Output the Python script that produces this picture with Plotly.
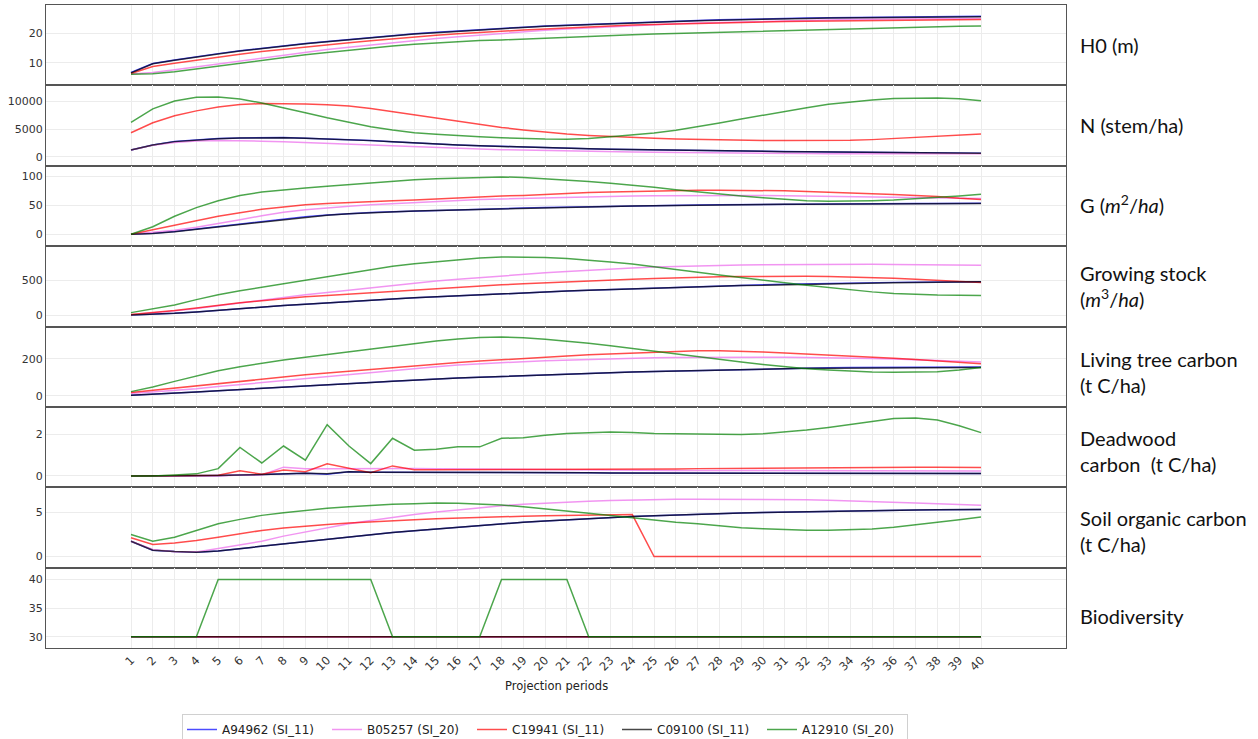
import plotly.graph_objects as go
from plotly.subplots import make_subplots

periods = list(range(1, 41))
series_names = ["A94962 (SI_11)", "B05257 (SI_20)", "C19941 (SI_11)", "C09100 (SI_11)", "A12910 (SI_20)"]
series_colors = ["rgba(0,0,255,0.7)", "rgba(238,130,238,0.85)", "rgba(255,0,0,0.7)", "rgba(0,0,0,0.72)", "rgba(0,128,0,0.7)"]

panel_labels = ["H0 (m)", "N (stem/ha)", "G (<i>m</i><sup>2</sup>/<i>ha</i>)",
                "Growing stock<br>(<i>m</i><sup>3</sup>/<i>ha</i>)", "Living tree carbon<br>(t C/ha)",
                "Deadwood<br>carbon  (t C/ha)", "Soil organic carbon<br>(t C/ha)", "Biodiversity"]

# ---------- H0 (m) ----------
h0_blue = [6.6, 9.7, 10.9, 12.1, 13.1, 14.1, 15.0, 15.8, 16.6, 17.3, 18.0, 18.6, 19.3, 19.9, 20.4, 20.9, 21.4, 21.8, 22.2, 22.6, 22.9, 23.2, 23.5, 23.8, 24.1, 24.3, 24.5, 24.7, 24.9, 25.1, 25.2, 25.3, 25.4, 25.5, 25.6, 25.7, 25.8, 25.8, 25.9, 25.9]
h0_pink = [6.1, 6.6, 7.6, 8.6, 9.6, 10.6, 11.6, 12.6, 13.6, 14.5, 15.3, 16.1, 16.9, 17.6, 18.3, 18.9, 19.5, 20.1, 20.6, 21.1, 21.6, 22.0, 22.4, 22.8, 23.1, 23.4, 23.6, 23.8, 24.0, 24.2, 24.4, 24.5, 24.6, 24.8, 24.9, 25.0, 25.0, 25.1, 25.2, 25.2]
h0_red = [6.3, 8.7, 9.8, 10.9, 11.9, 12.9, 13.8, 14.6, 15.4, 16.1, 16.8, 17.5, 18.2, 18.8, 19.4, 19.9, 20.4, 20.8, 21.2, 21.6, 22.0, 22.3, 22.6, 22.9, 23.1, 23.3, 23.5, 23.7, 23.9, 24.0, 24.1, 24.2, 24.3, 24.4, 24.5, 24.6, 24.6, 24.7, 24.7, 24.8]
h0_black = [6.5, 9.6, 10.8, 12.0, 13.0, 14.0, 14.9, 15.7, 16.5, 17.2, 17.9, 18.5, 19.2, 19.8, 20.3, 20.8, 21.3, 21.7, 22.1, 22.5, 22.8, 23.1, 23.4, 23.7, 24.0, 24.2, 24.4, 24.6, 24.8, 25.0, 25.1, 25.2, 25.3, 25.4, 25.5, 25.6, 25.7, 25.7, 25.8, 25.8]
h0_green = [6.0, 6.2, 6.9, 7.9, 8.9, 9.9, 10.8, 11.8, 12.7, 13.5, 14.3, 15.0, 15.7, 16.3, 16.8, 17.3, 17.6, 17.8, 18.1, 18.5, 18.9, 19.1, 19.3, 19.6, 19.8, 20.0, 20.3, 20.5, 20.7, 20.9, 21.1, 21.3, 21.5, 21.7, 21.9, 22.1, 22.2, 22.4, 22.5, 22.6]

# ---------- N (stem/ha) ----------
n_blue = [1250, 2150, 2750, 3060, 3290, 3410, 3470, 3460, 3360, 3230, 3110, 2930, 2710, 2490, 2310, 2150, 2000, 1870, 1750, 1640, 1540, 1460, 1380, 1310, 1250, 1190, 1130, 1080, 1030, 990, 950, 910, 870, 840, 810, 780, 750, 720, 690, 660]
n_pink = [1250, 2100, 2600, 2850, 2920, 2900, 2820, 2700, 2550, 2400, 2250, 2080, 1920, 1760, 1620, 1500, 1400, 1300, 1210, 1130, 1060, 1000, 940, 880, 830, 780, 740, 700, 670, 640, 610, 590, 570, 560, 550, 540, 540, 540, 540, 540]
n_red = [4340, 6130, 7380, 8270, 8980, 9400, 9580, 9600, 9520, 9380, 9130, 8720, 8150, 7600, 7000, 6400, 5850, 5300, 4850, 4450, 4100, 3850, 3650, 3480, 3330, 3220, 3130, 3060, 3000, 2960, 2930, 2920, 2930, 2980, 3100, 3280, 3480, 3700, 3900, 4110]
n_black = [1250, 2140, 2740, 3040, 3270, 3390, 3450, 3450, 3350, 3220, 3100, 2920, 2700, 2480, 2300, 2140, 1990, 1860, 1740, 1630, 1530, 1450, 1370, 1300, 1240, 1180, 1120, 1070, 1020, 980, 940, 900, 860, 830, 800, 770, 740, 710, 680, 650]
n_green = [6200, 8630, 10060, 10710, 10770, 10400, 9700, 8870, 7920, 7020, 6190, 5420, 4820, 4350, 4050, 3800, 3620, 3450, 3300, 3200, 3170, 3300, 3600, 3900, 4300, 4800, 5400, 6100, 6800, 7500, 8200, 8850, 9450, 9900, 10250, 10500, 10600, 10600, 10450, 10100]

# ---------- G (m2/ha) ----------
g_blue = [0, 1.6, 4.6, 8.8, 12.8, 17.2, 21.7, 26.2, 30.2, 33.2, 35.7, 37.5, 39.0, 40.2, 41.2, 42.2, 43.2, 44.2, 45.2, 46.0, 46.8, 47.6, 48.2, 48.8, 49.4, 49.9, 50.4, 50.8, 51.2, 51.6, 51.9, 52.2, 52.5, 52.7, 52.9, 53.1, 53.2, 53.3, 53.4, 53.5]
g_pink = [0, 3, 7, 12, 18, 25, 32, 38, 42.5, 46, 48.5, 51, 53, 54.5, 56, 58, 60, 61, 62, 63, 64, 65, 65.5, 66, 66.5, 66.8, 67, 67, 67, 66.8, 66.5, 66, 65.5, 65, 64.5, 64, 63.5, 63, 62.3, 61.6]
g_red = [0, 8, 16, 24, 31, 37, 43, 47, 51, 53, 55, 56, 58, 59, 61, 63, 64, 66, 67, 69, 70, 72, 73, 74, 75, 75.5, 76, 76, 76, 75.5, 75, 74, 73, 71.5, 70, 68.5, 67, 65, 62, 60]
g_black = [0, 1.5, 4.5, 8.6, 12.6, 17, 21.5, 26, 30, 33, 35.5, 37.3, 38.8, 40, 41, 42, 43, 44, 45, 45.8, 46.6, 47.4, 48, 48.6, 49.2, 49.7, 50.2, 50.6, 51, 51.4, 51.7, 52, 52.3, 52.5, 52.7, 52.9, 53, 53.1, 53.2, 53.3]
g_green = [0, 13, 31, 46, 58, 67, 73, 77, 80, 83, 86, 89, 91, 94, 96, 97, 98, 99, 98, 96, 94, 91, 88, 85, 81, 77, 73, 69, 66, 63, 60, 58, 57, 57, 58, 59, 61, 63, 66, 69]

# ---------- Growing stock (m3/ha) ----------
gs_blue = [5, 15, 30, 50, 75, 97, 118, 140, 160, 181, 200, 218, 234, 250, 265, 280, 295, 308, 322, 335, 347, 359, 370, 381, 391, 401, 411, 420, 429, 437, 445, 452, 458, 463, 467, 470, 472, 474, 476, 478]
gs_pink = [10, 35, 65, 100, 140, 180, 220, 260, 295, 325, 360, 395, 430, 460, 490, 515, 540, 565, 585, 605, 625, 645, 660, 675, 688, 698, 705, 712, 718, 722, 725, 727, 728, 728, 727, 725, 722, 719, 716, 712]
gs_red = [14, 40, 70, 105, 145, 180, 210, 240, 265, 285, 305, 325, 345, 360, 380, 400, 420, 435, 450, 465, 480, 495, 505, 515, 525, 535, 543, 550, 553, 556, 557, 556, 553, 548, 540, 528, 515, 500, 485, 467]
gs_black = [5, 15, 30, 50, 75, 97, 118, 140, 160, 181, 200, 218, 234, 250, 265, 280, 295, 308, 322, 335, 347, 359, 370, 380, 390, 399, 408, 416, 424, 431, 438, 444, 450, 455, 460, 465, 469, 473, 477, 480]
gs_green = [40, 90, 150, 225, 295, 350, 400, 450, 505, 560, 605, 650, 700, 735, 765, 795, 815, 830, 830, 825, 810, 790, 760, 730, 695, 655, 615, 575, 535, 500, 465, 430, 395, 365, 335, 312, 298, 290, 287, 285]

# ---------- Living tree carbon (t C/ha) ----------
ltc_blue = [3, 8, 14, 21, 28, 34, 40, 46, 51, 56, 64, 72, 79, 86, 91, 96, 100, 104.5, 109, 113, 117, 121, 125, 128, 131, 134, 137, 140, 142, 145, 147, 149, 151, 152, 153, 154, 154, 155, 155, 155]
ltc_pink = [13, 20, 28, 38, 50, 61, 72, 83, 94, 104, 115, 126, 137, 147, 157, 166, 173, 179, 184, 189, 193, 197, 200, 203, 205, 207, 208, 209, 209, 209, 208, 207, 206, 204, 201, 198, 195, 191, 187, 182]
ltc_red = [18, 30, 42, 55, 68, 80, 91, 102, 113, 123, 133, 143, 152, 161, 170, 179, 187, 195, 202, 209, 215, 221, 226, 231, 236, 240, 243, 242, 240, 236, 231, 226, 221, 215, 209, 203, 196, 189, 181, 173]
ltc_black = [3, 8, 14, 21, 28, 34, 40, 46, 51, 56, 64, 72, 79, 86, 91, 96, 100, 104.5, 109, 113, 117, 121, 125, 128, 131, 134, 137, 140, 142, 144, 146, 148, 149, 150, 151, 152, 152, 153, 153, 153]
ltc_green = [23, 48, 78, 108, 135, 157, 176, 193, 208, 222, 238, 253, 268, 282, 295, 306, 314, 316, 313, 305, 295, 283, 270, 255, 240, 225, 208, 195, 182, 169, 157, 146, 139, 133, 129, 127, 127, 130, 139, 152]

# ---------- Deadwood carbon (t C/ha) ----------
dw_blue = [0, 0, 0, 0.01, 0.02, 0.04, 0.06, 0.1, 0.13, 0.08, 0.2, 0.18, 0.18, 0.17, 0.16, 0.16, 0.16, 0.16, 0.15, 0.15, 0.15, 0.15, 0.14, 0.14, 0.14, 0.14, 0.14, 0.13, 0.13, 0.13, 0.13, 0.13, 0.13, 0.13, 0.12, 0.12, 0.12, 0.12, 0.12, 0.12]
dw_pink = [0, 0, 0, 0, 0, 0.05, 0.05, 0.42, 0.35, 0.35, 0.36, 0.36, 0.37, 0.36, 0.34, 0.33, 0.32, 0.31, 0.3, 0.3, 0.29, 0.28, 0.28, 0.27, 0.27, 0.26, 0.26, 0.26, 0.25, 0.25, 0.25, 0.25, 0.25, 0.25, 0.24, 0.24, 0.24, 0.24, 0.24, 0.24]
dw_red = [0, 0, 0, 0, 0.03, 0.25, 0.08, 0.28, 0.2, 0.58, 0.38, 0.15, 0.48, 0.3, 0.3, 0.3, 0.3, 0.3, 0.3, 0.3, 0.3, 0.3, 0.3, 0.3, 0.32, 0.33, 0.35, 0.36, 0.37, 0.38, 0.39, 0.4, 0.4, 0.41, 0.41, 0.42, 0.42, 0.41, 0.4, 0.4]
dw_black = [0, 0, 0, 0.01, 0.02, 0.04, 0.06, 0.1, 0.13, 0.1, 0.2, 0.18, 0.18, 0.17, 0.16, 0.16, 0.16, 0.16, 0.15, 0.15, 0.15, 0.15, 0.14, 0.14, 0.14, 0.14, 0.14, 0.13, 0.13, 0.13, 0.13, 0.13, 0.13, 0.13, 0.12, 0.12, 0.12, 0.12, 0.12, 0.12]
dw_green = [0, 0, 0.05, 0.1, 0.35, 1.36, 0.62, 1.43, 0.75, 2.45, 1.43, 0.59, 1.8, 1.23, 1.28, 1.39, 1.39, 1.8, 1.82, 1.95, 2.03, 2.08, 2.1, 2.08, 2.03, 2.02, 2.0, 1.98, 1.98, 2.02, 2.1, 2.2, 2.32, 2.45, 2.6, 2.75, 2.77, 2.67, 2.4, 2.07]

# ---------- Soil organic carbon (t C/ha) ----------
soc_blue = [1.73, 0.72, 0.57, 0.49, 0.64, 0.9, 1.17, 1.47, 1.73, 2.0, 2.26, 2.48, 2.71, 2.9, 3.1, 3.3, 3.5, 3.68, 3.85, 4.0, 4.14, 4.27, 4.39, 4.5, 4.6, 4.69, 4.77, 4.84, 4.9, 4.96, 5.01, 5.06, 5.1, 5.14, 5.17, 5.2, 5.23, 5.25, 5.27, 5.3]
soc_pink = [1.73, 0.79, 0.53, 0.53, 0.9, 1.28, 1.73, 2.3, 2.79, 3.24, 3.69, 4.06, 4.44, 4.74, 5.0, 5.25, 5.48, 5.7, 5.88, 6.02, 6.14, 6.23, 6.3, 6.36, 6.4, 6.43, 6.45, 6.45, 6.45, 6.44, 6.42, 6.38, 6.33, 6.27, 6.2, 6.12, 6.03, 5.93, 5.85, 5.76]
soc_red = [2.11, 1.35, 1.54, 1.81, 2.18, 2.56, 2.94, 3.2, 3.42, 3.61, 3.76, 3.91, 4.03, 4.14, 4.24, 4.33, 4.41, 4.48, 4.54, 4.6, 4.65, 4.68, 4.7, 4.72, 0, 0, 0, 0, 0, 0, 0, 0, 0, 0, 0, 0, 0, 0, 0, 0]
soc_black = [1.73, 0.72, 0.57, 0.49, 0.64, 0.9, 1.17, 1.47, 1.73, 2.0, 2.26, 2.48, 2.71, 2.9, 3.1, 3.3, 3.5, 3.68, 3.85, 4.0, 4.14, 4.27, 4.39, 4.5, 4.6, 4.69, 4.77, 4.84, 4.9, 4.96, 5.01, 5.06, 5.1, 5.14, 5.17, 5.2, 5.23, 5.25, 5.27, 5.3]
soc_green = [2.48, 1.73, 2.18, 2.94, 3.69, 4.18, 4.63, 4.93, 5.2, 5.42, 5.61, 5.76, 5.87, 5.95, 6.02, 6.0, 5.92, 5.8, 5.6, 5.38, 5.12, 4.88, 4.63, 4.35, 4.06, 3.85, 3.69, 3.45, 3.25, 3.12, 3.01, 2.95, 2.95, 3.0, 3.1, 3.3, 3.55, 3.85, 4.15, 4.44]

# ---------- Biodiversity ----------
bio_blue = [30] * 40
bio_pink = [30] * 40
bio_red = [30] * 40
bio_black = [30] * 40
bio_green = [30, 30, 30, 30, 40, 40, 40, 40, 40, 40, 40, 40, 30, 30, 30, 30, 30, 40, 40, 40, 40, 30, 30, 30, 30, 30, 30, 30, 30, 30, 30, 30, 30, 30, 30, 30, 30, 30, 30, 30]

panels = [
    [h0_blue, h0_pink, h0_red, h0_black, h0_green],
    [n_blue, n_pink, n_red, n_black, n_green],
    [g_blue, g_pink, g_red, g_black, g_green],
    [gs_blue, gs_pink, gs_red, gs_black, gs_green],
    [ltc_blue, ltc_pink, ltc_red, ltc_black, ltc_green],
    [dw_blue, dw_pink, dw_red, dw_black, dw_green],
    [soc_blue, soc_pink, soc_red, soc_black, soc_green],
    [bio_blue, bio_pink, bio_red, bio_black, bio_green],
]
y_ticks = [[10, 20], [0, 5000, 10000], [0, 50, 100], [0, 500], [0, 200], [0, 2], [0, 5], [30, 35, 40]]
y_ranges = [[2.2, 29.8], [-1600, 12860], [-20.5, 118.3], [-157, 985], [-59, 373], [-0.54, 3.3], [-1.24, 7.79], [28.04, 42.08]]
label_y_px = [45, 125, 204, 286, 372, 451, 531, 616]

fig = make_subplots(rows=8, cols=1, shared_xaxes=True, vertical_spacing=0)

for r, data in enumerate(panels, start=1):
    for i, vals in enumerate(data):
        fig.add_trace(go.Scatter(x=periods, y=vals, mode="lines", name=series_names[i],
                                 line=dict(color=series_colors[i], width=1.5),
                                 showlegend=(r == 1), legendgroup=series_names[i]),
                      row=r, col=1)
    fig.update_yaxes(row=r, col=1, tickvals=y_ticks[r - 1],
                     ticktext=[str(t) for t in y_ticks[r - 1]], range=y_ranges[r - 1],
                     showgrid=True, gridcolor="#ececec", zeroline=False,
                     showline=True, linecolor="#555", linewidth=1, mirror=True,
                     ticks="", automargin=False,
                     tickfont=dict(family="DejaVu Sans", size=11, color="#333"))
    fig.update_xaxes(row=r, col=1, range=[-2.9, 43.9], tickvals=periods,
                     ticktext=[str(p) for p in periods],
                     showgrid=True, gridcolor="#ececec", zeroline=False,
                     showline=True, linecolor="#555", linewidth=1, mirror=True,
                     showticklabels=(r == 8), tickangle=-45, automargin=False,
                     tickfont=dict(family="DejaVu Sans", size=11.5, color="#333"))

plot_top, plot_bottom = 5, 648
def py(px):
    return (plot_bottom - px) / (plot_bottom - plot_top)

for lab, ypx in zip(panel_labels, label_y_px):
    fig.add_annotation(text=lab, xref="paper", yref="paper", x=1.012, y=py(ypx),
                       xanchor="left", yanchor="middle", align="left", showarrow=False,
                       font=dict(family="Lato", size=20, color="#111"))

fig.add_annotation(text="Projection periods", xref="paper", yref="paper", x=0.5, y=py(686),
                   xanchor="center", yanchor="middle", showarrow=False,
                   font=dict(family="DejaVu Sans", size=11.5, color="#222"))

fig.update_layout(
    width=1258, height=739,
    margin=dict(l=46, r=192, t=5, b=91, autoexpand=False),
    plot_bgcolor="white", paper_bgcolor="white",
    legend=dict(orientation="h", xref="container", yref="container",
                x=545 / 1258, xanchor="center", y=(739 - 714) / 739, yanchor="top",
                entrywidth=100,
                bordercolor="#d0d0d0", borderwidth=1,
                font=dict(family="DejaVu Sans", size=12, color="#222")),
)

fig.write_html("out.html", config={"displayModeBar": False},
               post_script="document.body.style.margin='0';")
